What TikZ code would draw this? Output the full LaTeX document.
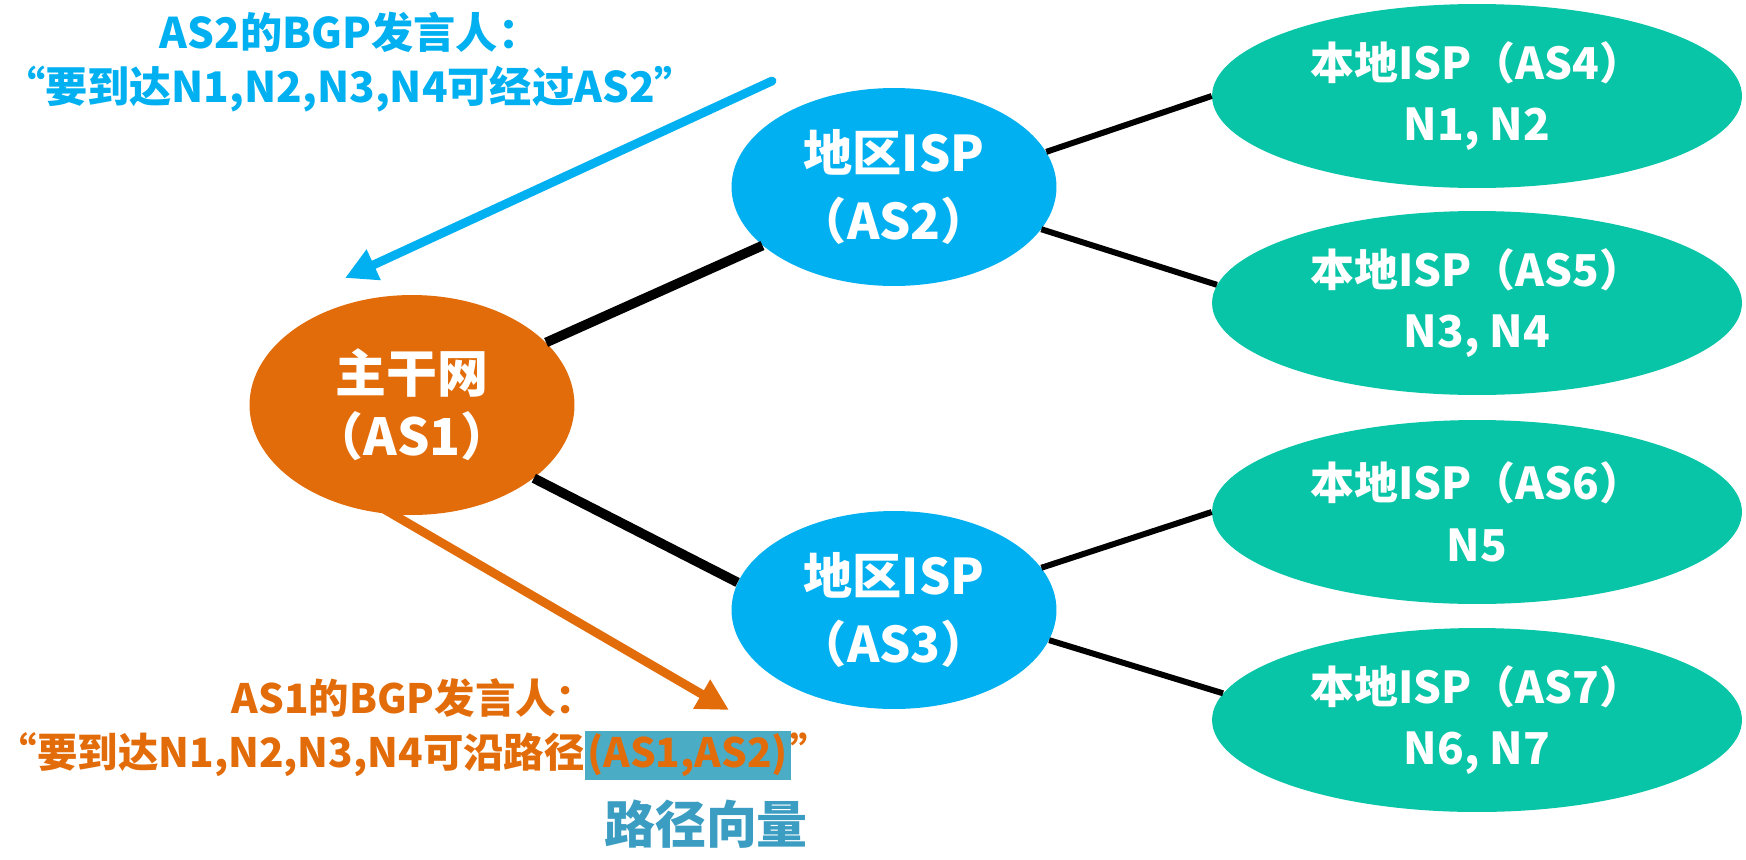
\documentclass[tikz,border=0pt]{standalone}
\usepackage{fontspec}
\setmainfont{Noto Sans CJK SC}
\usetikzlibrary{arrows.meta, shapes.geometric}
\definecolor{asblue}{HTML}{00B0F0}
\definecolor{asorange}{HTML}{E36C0A}
\definecolor{asgreen}{HTML}{07C5A6}
\definecolor{hlblue}{HTML}{4BACC6}
\definecolor{pvblue}{HTML}{3C9DC2}

\begin{document}
\begin{tikzpicture}[x=0.02cm, y=-0.02cm,
  >={Triangle[length=18pt, width=18pt]},
  backbone/.style={ellipse, fill=asorange, text=white, inner sep=0pt,
    minimum width=6.5cm, minimum height=4.4cm, align=center,
    font=\fontsize{29}{36}\selectfont\bfseries},
  regional/.style={ellipse, fill=asblue, text=white, inner sep=0pt,
    minimum width=6.5cm, minimum height=3.96cm, align=center,
    font=\fontsize{28}{39}\selectfont\bfseries},
  localisp/.style={ellipse, fill=asgreen, text=white, inner sep=0pt,
    minimum width=10.6cm, minimum height=3.68cm, align=center,
    font=\fontsize{25}{35}\selectfont\bfseries},
  trunk/.style={line width=5.5pt},
  branch/.style={line width=3.4pt},
  note/.style={align=center, inner sep=1pt, font=\fontsize{24}{31}\selectfont\bfseries}]

\useasboundingbox (0,0) rectangle (1746,859);

% =========== AUTONOMOUS SYSTEMS ===========
\node[backbone] (as1) at (412,405) {主干网\\（AS1）};

\node[regional] (as2) at (894,187) {地区ISP\\（AS2）};
\node[regional] (as3) at (894,610) {地区ISP\\（AS3）};

\node[localisp] (as4) at (1477,96)  {本地ISP（AS4）\\N1, N2};
\node[localisp] (as5) at (1477,303) {本地ISP（AS5）\\N3, N4};
\node[localisp] (as6) at (1477,512) {本地ISP（AS6）\\N5};
\node[localisp] (as7) at (1477,720) {本地ISP（AS7）\\N6, N7};

% Links
\draw[trunk] (as1.25) -- (as2.204);
\draw[trunk] (as1.-31) -- (as3.170);
\draw[branch] (as2.13) -- (as4.west);
\draw[branch] (as2.-16) -- (as5.176);
\draw[branch] (as3.16) -- (as6.west);
\draw[branch] (as3.-11) -- (as7.174);

% =========== BGP ANNOUNCEMENTS ===========
% AS2 speaker
\node[note, text=asblue] (msg2) at (350,62) {AS2的BGP发言人：\\“要到达N1,N2,N3,N4可经过AS2”};
\coordinate (a2from) at (772,81);
\coordinate (a2to) at (345,278);
\draw[->, asblue, line width=5pt, line cap=round] (a2from) -- (a2to);

% AS1 speaker
\coordinate (a1from) at (382,508);
\coordinate (a1to) at (729,710);
\draw[->, asorange, line width=5pt, line cap=round] (a1from) -- (a1to);
\node[note, text=asorange, font=\fontsize{23}{31}\selectfont\bfseries] (msg1) at (414,729)
  {AS1的BGP发言人：\\“要到达N1,N2,N3,N4可沿路径{\fboxsep=1.5pt\colorbox{hlblue}{(AS1,AS2)}}”};

% Path vector label
\node[text=pvblue, font=\fontsize{29}{34}\selectfont\bfseries] (pv) at (706,824) {路径向量};

\end{tikzpicture}
\end{document}
